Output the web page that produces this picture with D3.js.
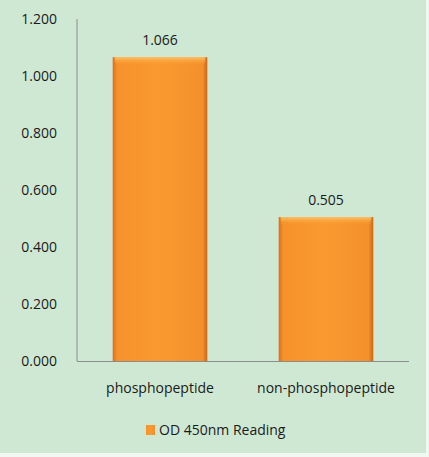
<!DOCTYPE html>
<html><head><meta charset="utf-8">
<script src="https://cdn.jsdelivr.net/npm/d3@7"></script>
<style>
html,body{margin:0;padding:0;background:#fff;}
svg{display:block;}
text{font-family:"Open Sans",sans-serif;fill:#1a1a1a;}
</style></head>
<body>
<script>
const categories = ["phosphopeptide", "non-phosphopeptide"];
const values = [1.066, 0.505];
const valueLabels = ["1.066", "0.505"];
const yTicks = [0, 0.2, 0.4, 0.6, 0.8, 1.0, 1.2];
const seriesName = "OD 450nm Reading";

const W = 429, H = 457;
const svg = d3.select("body").append("svg").attr("width", W).attr("height", H);
const defs = svg.append("defs");
const g1 = defs.append("linearGradient").attr("id","barH").attr("x1","0").attr("x2","1").attr("y1","0").attr("y2","0");
g1.append("stop").attr("offset","0").attr("stop-color","#d9701a");
g1.append("stop").attr("offset","0.05").attr("stop-color","#f7922a");
g1.append("stop").attr("offset","0.5").attr("stop-color","#f99a30");
g1.append("stop").attr("offset","0.95").attr("stop-color","#f4902a");
g1.append("stop").attr("offset","1").attr("stop-color","#c8661a");
const g2 = defs.append("linearGradient").attr("id","barTop").attr("x1","0").attr("x2","0").attr("y1","0").attr("y2","1");
g2.append("stop").attr("offset","0").attr("stop-color","#ffc266");
g2.append("stop").attr("offset","1").attr("stop-color","#f99a30").attr("stop-opacity",0);

svg.append("rect").attr("x",0).attr("y",0).attr("width",W).attr("height",H).attr("fill","#f0f8f1");
svg.append("rect").attr("x",0).attr("y",0).attr("width",426).attr("height",453).attr("fill","#cfe8d4");

const x = d3.scaleBand().domain(categories).range([77, 409]).paddingInner(0.43).paddingOuter(0.215);
const y = d3.scaleLinear().domain([0, 1.2]).range([361, 19]);

const yAxis = svg.append("g").attr("transform","translate(77,0)")
  .call(d3.axisLeft(y).tickValues(yTicks).tickFormat(d3.format(".3f")).tickSize(0).tickPadding(20));
yAxis.select(".domain").attr("stroke","#8c8c8c").attr("d", `M0,${y(1.2)}V${y(0)}`);
yAxis.selectAll("text").attr("font-size","14px").attr("fill","#1a1a1a").attr("font-family","'Open Sans',sans-serif");

svg.append("line").attr("x1",77).attr("x2",409).attr("y1",y(0)+0.5).attr("y2",y(0)+0.5).attr("stroke","#8c8c8c");

const bars = svg.append("g");
categories.forEach((c,i)=>{
  bars.append("rect").attr("x",x(c)).attr("y",y(values[i])).attr("width",x.bandwidth()).attr("height",y(0)-y(values[i])).attr("fill","url(#barH)");
  bars.append("rect").attr("x",x(c)+2).attr("y",y(values[i])).attr("width",x.bandwidth()-4).attr("height",8).attr("fill","url(#barTop)");
  svg.append("text").attr("x",x(c)+x.bandwidth()/2).attr("y",y(values[i])-12).attr("text-anchor","middle").attr("font-size","14px").text(valueLabels[i]);
  svg.append("text").attr("x",x(c)+x.bandwidth()/2).attr("y",393).attr("text-anchor","middle").attr("font-size","14px").text(c);
});

const leg = svg.append("g");
leg.append("rect").attr("x",146).attr("y",425).attr("width",9).attr("height",10).attr("fill","url(#barH)");
leg.append("text").attr("x",159).attr("y",435).attr("font-size","14px").text(seriesName);
</script>
</body></html>
